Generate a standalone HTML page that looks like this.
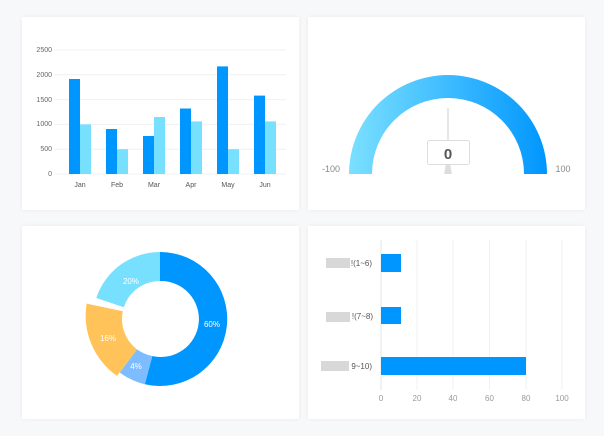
<!DOCTYPE html><html><head><style>
body{margin:0;width:604px;height:436px;background:#f7f8fa;font-family:"Liberation Sans",sans-serif;overflow:hidden}
.c{position:absolute;background:#fff;box-shadow:0 0 4px rgba(0,0,0,.06)}
</style></head><body>
<div class="c" style="left:22px;top:17px;width:277px;height:193px"></div>
<div class="c" style="left:308px;top:17px;width:277px;height:193px"></div>
<div class="c" style="left:22px;top:226px;width:277px;height:193px"></div>
<div class="c" style="left:308px;top:226px;width:277px;height:193px"></div>
<svg width="604" height="436" style="position:absolute;left:0;top:0" font-family="Liberation Sans">
<defs><linearGradient id="g" x1="0" x2="1"><stop offset="0" stop-color="#7be0ff"/><stop offset="1" stop-color="#0096ff"/></linearGradient></defs>
<g stroke="#eef0f3" stroke-width="1">
<line x1="54" x2="286" y1="50" y2="50"/><line x1="54" x2="286" y1="74.8" y2="74.8"/><line x1="54" x2="286" y1="99.6" y2="99.6"/><line x1="54" x2="286" y1="124.4" y2="124.4"/><line x1="54" x2="286" y1="149.2" y2="149.2"/><line x1="54" x2="286" y1="174" y2="174"/></g>
<g font-size="7" fill="#666" text-anchor="end"><text x="52" y="52">2500</text><text x="52" y="77">2000</text><text x="52" y="102">1500</text><text x="52" y="126">1000</text><text x="52" y="151">500</text><text x="52" y="176">0</text></g>
<g font-size="7" fill="#555" text-anchor="middle"><text x="80" y="187">Jan</text><text x="117" y="187">Feb</text><text x="154" y="187">Mar</text><text x="191" y="187">Apr</text><text x="228" y="187">May</text><text x="265" y="187">Jun</text></g>
<g fill="#0096ff"><rect x="69" y="79" width="11" height="95"/><rect x="106" y="129" width="11" height="45"/><rect x="143" y="136" width="11" height="38"/><rect x="180" y="108.5" width="11" height="65.5"/><rect x="217" y="66.4" width="11" height="107.6"/><rect x="254" y="95.6" width="11" height="78.4"/></g>
<g fill="#78e0ff"><rect x="80" y="124.4" width="11" height="49.6"/><rect x="117" y="149.2" width="11" height="24.8"/><rect x="154" y="117" width="11" height="57"/><rect x="191" y="121.4" width="11" height="52.6"/><rect x="228" y="149.2" width="11" height="24.8"/><rect x="265" y="121.4" width="11" height="52.6"/></g>
<path d="M349 174 A99 99 0 0 1 547 174 L524 174 A76 76 0 0 0 372 174Z" fill="url(#g)"/>
<text x="331" y="172" font-size="9" fill="#888" text-anchor="middle">-100</text>
<text x="563" y="172" font-size="9" fill="#888" text-anchor="middle">100</text>
<line x1="448" y1="108" x2="448" y2="141" stroke="#ccc"/>
<path d="M446 164 L450 164 L452 174 L444 174Z" fill="#ddd"/>
<rect x="427.5" y="140.5" width="42" height="24" fill="#fff" stroke="#ddd" rx="2"/>
<text x="448" y="159" font-size="15" font-weight="bold" fill="#555" text-anchor="middle">0</text>
<path d="M160 252 A67 67 0 1 1 144.8 384.2 L152.3 356 A38 38 0 1 0 160 281Z" fill="#0096ff"/>
<path d="M144.8 384.2 A67 67 0 0 1 119.7 372.5 L137 349.4 A38 38 0 0 0 152.3 356Z" fill="#7dbcff"/>
<path d="M117 376 A74 74 0 0 1 86.6 303.6 L122.8 311.3 A38 38 0 0 0 137 349.4Z" fill="#ffc35a"/>
<path d="M96.3 298 A67 67 0 0 1 160 252 L160 281 A38 38 0 0 0 123.8 307.3Z" fill="#78e0ff"/>
<g font-size="8" fill="#fff" text-anchor="middle"><text x="212" y="327">60%</text><text x="136" y="369">4%</text><text x="108" y="341">16%</text><text x="131" y="284">20%</text></g>
<g stroke="#eef0f3"><line x1="417" x2="417" y1="240" y2="390"/><line x1="453" x2="453" y1="240" y2="390"/><line x1="489.5" x2="489.5" y1="240" y2="390"/><line x1="526" x2="526" y1="240" y2="390"/><line x1="562" x2="562" y1="240" y2="390"/></g>
<line x1="381" x2="381" y1="240" y2="390" stroke="#e3e5e8"/>
<g fill="#0096ff"><rect x="381" y="254" width="20" height="18"/><rect x="381" y="307" width="20" height="17"/><rect x="381" y="357" width="145" height="18"/></g>
<g font-size="8" fill="#999" text-anchor="middle"><text x="381" y="401">0</text><text x="417" y="401">20</text><text x="453" y="401">40</text><text x="489.5" y="401">60</text><text x="526" y="401">80</text><text x="562" y="401">100</text></g>
<g fill="#d8d8d8"><rect x="326" y="258" width="24" height="10"/><rect x="326" y="312" width="24" height="10"/><rect x="321" y="361" width="28" height="10"/></g>
<g font-size="8" fill="#555" text-anchor="end"><text x="372" y="266">!(1~6)</text><text x="373" y="319">!(7~8)</text><text x="372" y="369">9~10)</text></g>
</svg>
</body></html>
